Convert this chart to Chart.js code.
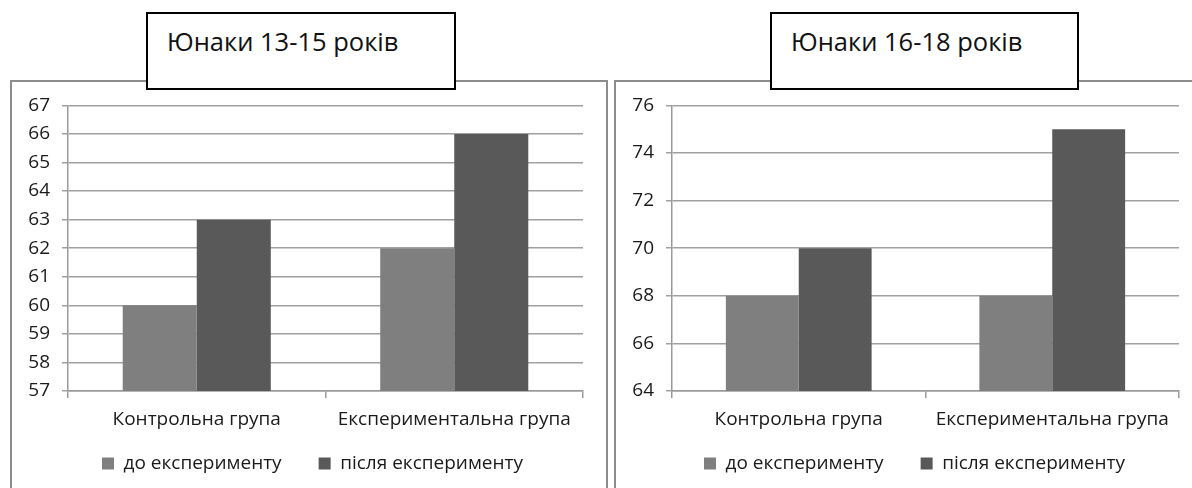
<!DOCTYPE html>
<html>
<head>
<meta charset="utf-8">
<script src="https://cdn.jsdelivr.net/npm/chart.js@4.4.1/dist/chart.umd.min.js"></script>
<style>
  body { margin: 0; background: #fff; width: 1192px; height: 488px; overflow: hidden; position: relative; font-family: 'Open Sans', sans-serif; }
  .frame { position: absolute; top: 80px; height: 440px; border: 2px solid #8c8c8c; box-sizing: border-box; }
  #frameL { left: 10px; width: 598px; }
  #frameR { left: 614px; width: 600px; }
  canvas { position: absolute; top: 82px; }
  #chartL { left: 12px; }
  #chartR { left: 616px; }
  .title { position: absolute; top: 12px; height: 78px; border: 2px solid #000; background: #fff; box-sizing: border-box;
           font-size: 25.5px; line-height: 1; color: #111; padding: 15px 0 0 19px; white-space: nowrap; }
  #titleL { left: 146px; width: 310px; }
  #titleR { left: 770px; width: 309px; }
</style>
</head>
<body>
<div class="frame" id="frameL"></div>
<div class="frame" id="frameR"></div>
<canvas id="chartL" width="594" height="406"></canvas>
<canvas id="chartR" width="576" height="406"></canvas>
<div class="title" id="titleL"></div>
<div class="title" id="titleR"></div>
<script>
const titles = ['Юнаки 13-15 років', 'Юнаки 16-18 років'];
const categories = ['Контрольна група', 'Експериментальна група'];
const seriesNames = ['до експерименту', 'після експерименту'];

// 13-15
const youngBefore = [60, 62];
const youngAfter = [63, 66];
// 16-18
const olderBefore = [68, 68];
const olderAfter = [70, 75];

const youngAxis = { min: 57, max: 67, step: 1 };
const olderAxis = { min: 64, max: 76, step: 2 };

const colorBefore = '#7f7f7f';
const colorAfter = '#595959';

Chart.defaults.font.family = "'Open Sans', sans-serif";
Chart.defaults.font.size = 19;
Chart.defaults.color = '#1a1a1a';

document.getElementById('titleL').textContent = titles[0];
document.getElementById('titleR').textContent = titles[1];

// nudge the legend box after layout (the wide item gap would otherwise push it too low)
const legendShift = {
    id: 'legendShift',
    afterLayout(chart, args, opts) {
        const lg = chart.legend;
        lg.top -= opts.dy; lg.bottom -= opts.dy;
        lg.left += opts.dx; lg.right += opts.dx;
    }
};

function makeChart(id, before, after, axis, padRight, dx) {
    const ctx = document.getElementById(id).getContext('2d');
    return new Chart(ctx, {
        type: 'bar',
        data: {
            labels: categories,
            datasets: [
                { label: seriesNames[0], data: before, backgroundColor: colorBefore, borderWidth: 0 },
                { label: seriesNames[1], data: after, backgroundColor: colorAfter, borderWidth: 0 }
            ]
        },
        plugins: [legendShift],
        options: {
            responsive: false,
            animation: false,
            categoryPercentage: 0.575,
            barPercentage: 1,
            layout: { padding: { top: 23, right: padRight, bottom: -21, left: 0 } },
            plugins: {
                title: { display: false },
                tooltip: { enabled: false },
                legendShift: { dx: dx, dy: 26 },
                legend: {
                    position: 'bottom',
                    labels: { boxWidth: 12, boxHeight: 12, padding: 37, color: '#1a1a1a' }
                }
            },
            scales: {
                x: {
                    grid: { drawOnChartArea: false, color: '#9a9a9a', lineWidth: 1.5, tickLength: 7 },
                    border: { color: '#9a9a9a', width: 1.5 },
                    ticks: { padding: 10, maxRotation: 0 },
                    afterFit: (s) => { s.height = 52; }
                },
                y: {
                    min: axis.min,
                    max: axis.max,
                    grid: { color: '#a0a0a0', lineWidth: 1.5, tickLength: 6 },
                    border: { color: '#9a9a9a', width: 1.5 },
                    ticks: { stepSize: axis.step, padding: 12 },
                    afterFit: (s) => { s.width = 56; }
                }
            }
        }
    });
}

makeChart('chartL', youngBefore, youngAfter, youngAxis, 23, 15);
makeChart('chartR', olderBefore, olderAfter, olderAxis, 13, 17);
</script>
</body>
</html>
